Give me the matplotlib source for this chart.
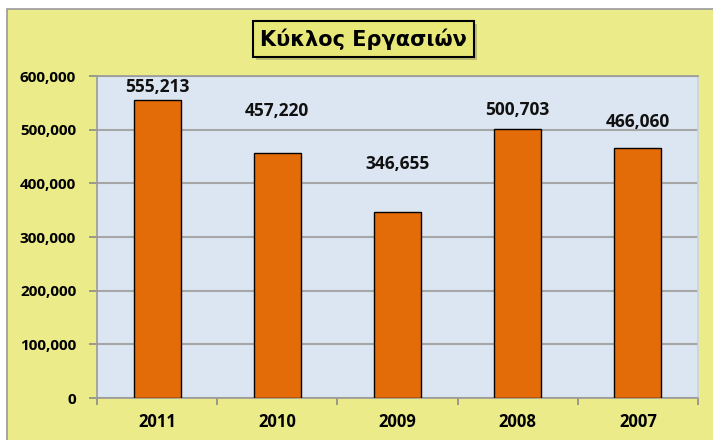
import matplotlib.pyplot as plt
from matplotlib.patches import Rectangle
from matplotlib.ticker import FuncFormatter

years = ['2011', '2010', '2009', '2008', '2007']
turnover = [555213, 457220, 346655, 500703, 466060]
# where the value labels sit (data units), as placed in the original
label_y = [579500, 534800, 436000, 536600, 514300]

plt.rcParams['font.family'] = ['Open Sans', 'DejaVu Sans']
plt.rcParams['font.weight'] = 'bold'

fig = plt.figure(figsize=(7.13, 4.4), dpi=100)
fig.patch.set_facecolor('white')

# yellow chart area with grey border
fig.patches.append(Rectangle((7 / 713, -0.05), 1.1, (440 - 9) / 440 + 0.05,
                             transform=fig.transFigure, facecolor='#ebeb8a',
                             edgecolor='#9a9a9a', linewidth=1.2, zorder=0))

ax = fig.add_axes([97 / 713, 1 - 398 / 440, (698 - 97) / 713, (398 - 76) / 440])
ax.set_zorder(2)
ax.set_facecolor('#dce6f2')

x = range(len(years))
ax.bar(x, turnover, width=0.39, color='#e36c09', edgecolor='black',
       linewidth=1.0, zorder=3)

for i, (v, ly) in enumerate(zip(turnover, label_y)):
    ax.text(i, ly, f'{v:,}', ha='center', va='center', fontsize=12.5,
            fontweight='bold', color='#111111', zorder=4)

ax.set_xlim(-0.5, len(years) - 0.5)
ax.set_ylim(0, 600000)
ax.set_yticks(range(0, 600001, 100000))
ax.yaxis.set_major_formatter(FuncFormatter(lambda v, p: f'{int(v):,}'))
ax.grid(axis='y', color='#a6a6a6', linewidth=1.5, zorder=1)

ax.set_xticks(list(x))
ax.set_xticklabels(years, fontsize=12, fontweight='bold')
ax.set_xticks([i - 0.5 for i in range(len(years) + 1)], minor=True)
ax.tick_params(axis='x', which='major', length=0, pad=11)
ax.tick_params(axis='x', which='minor', length=5, color='#8c8c8c', width=1.2)
ax.tick_params(axis='y', length=6, color='#8c8c8c', width=1.2, pad=9,
               labelsize=11)

for side in ['left', 'bottom', 'top', 'right']:
    ax.spines[side].set_color('#9a9a9a')
    ax.spines[side].set_linewidth(1.2)
ax.spines['right'].set_color('#c8d2de')

# title box with shadow
fig.patches.append(Rectangle((256 / 713, 1 - 60 / 440), (474 - 253) / 713, 36 / 440,
                             transform=fig.transFigure, facecolor='#7a7a50',
                             edgecolor='none', alpha=0.4, zorder=5))
fig.patches.append(Rectangle((253 / 713, 1 - 57 / 440), (474 - 253) / 713, 36 / 440,
                             transform=fig.transFigure, facecolor='#e8e878',
                             edgecolor='black', linewidth=1.5, zorder=6))
fig.text((253 + 474) / 2 / 713, 1 - 39 / 440, 'Κύκλος Εργασιών', ha='center',
         va='center', fontsize=15, fontweight='bold', color='black', zorder=7,
         family=['DejaVu Sans'])

fig.savefig('out.png', dpi=100)
